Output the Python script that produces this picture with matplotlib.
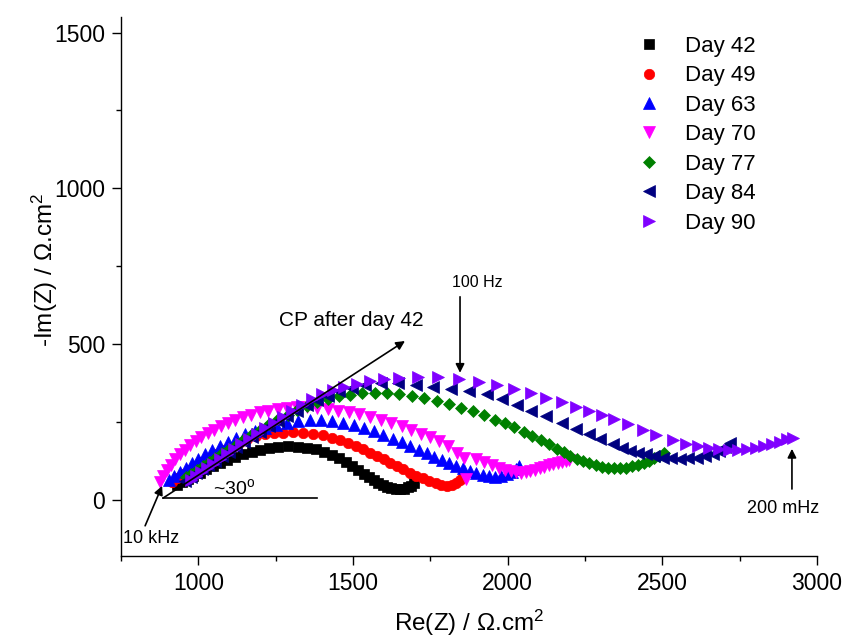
import matplotlib
matplotlib.use("Agg")
import matplotlib.pyplot as plt

plt.rcParams['font.family'] = ['Liberation Sans', 'DejaVu Sans']
plt.rcParams['mathtext.fontset'] = 'custom'
plt.rcParams['mathtext.rm'] = 'Liberation Sans'
plt.rcParams['mathtext.it'] = 'Liberation Sans:italic'

# ---------------- data ----------------
labels = ["Day 42", "Day 49", "Day 63", "Day 70", "Day 77", "Day 84", "Day 90"]

x42 = [930, 947, 965, 984, 1004, 1025, 1047, 1070, 1094, 1119, 1145, 1172, 1200, 1229, 1259,
       1290, 1321, 1351, 1380, 1407, 1432, 1455, 1477, 1497, 1516, 1534, 1551, 1567, 1582, 1596,
       1610, 1624, 1638, 1652, 1665, 1677, 1688, 1697]
y42 = [48, 58, 68, 78, 88, 98, 108, 118, 128, 137, 146, 154, 161, 166, 170,
       172, 171, 168, 162, 154, 145, 134, 121, 108, 95, 83, 72, 63, 55, 48,
       42, 38, 35, 34, 36, 40, 46, 53]

x49 = [915, 932, 950, 969, 989, 1010, 1032, 1055, 1079, 1104, 1130, 1157, 1185, 1214, 1244,
       1275, 1307, 1339, 1371, 1402, 1431, 1458, 1484, 1509, 1533, 1556, 1578, 1600, 1621, 1642,
       1663, 1684, 1705, 1726, 1747, 1767, 1786, 1804, 1820, 1834, 1846, 1856]
y49 = [58, 70, 82, 95, 108, 121, 134, 147, 159, 171, 183, 194, 204, 210, 214,
       216, 217, 216, 213, 207, 200, 192, 183, 173, 163, 152, 141, 130, 119, 108,
       98, 88, 78, 69, 60, 53, 48, 46, 48, 55, 64, 75]

x63 = [905, 922, 940, 959, 979, 1000, 1022, 1045, 1070, 1096, 1123, 1152, 1183, 1216, 1250,
       1286, 1323, 1360, 1397, 1433, 1468, 1502, 1535, 1567, 1598, 1628, 1657, 1685, 1712, 1738,
       1763, 1787, 1810, 1833, 1855, 1877, 1898, 1919, 1940, 1960, 1979, 1997, 2013, 2027, 2038]
y63 = [65, 78, 91, 104, 118, 132, 146, 160, 174, 187, 199, 211, 222, 232, 241,
       248, 253, 256, 256, 253, 248, 241, 231, 220, 209, 197, 185, 173, 161, 150,
       139, 128, 118, 109, 101, 93, 86, 80, 76, 75, 77, 82, 90, 99, 110]

x70 = [875, 886, 898, 911, 925, 940, 956, 973, 991, 1010, 1030, 1051, 1073, 1096, 1120,
       1145, 1171, 1198, 1226, 1256, 1287, 1319, 1352, 1385, 1418, 1452, 1486, 1520, 1555, 1590,
       1624, 1657, 1689, 1720, 1750, 1779, 1808, 1835, 1860, 1866, 1898, 1925, 1950, 1972, 1992,
       2010, 2027, 2043, 2058, 2073, 2088, 2103, 2118, 2133, 2148, 2162, 2175, 2188, 2199]
y70 = [58, 78, 96, 113, 130, 146, 161, 175, 189, 202, 214, 226, 237, 247, 257,
       266, 274, 281, 287, 292, 295, 297, 297, 295, 291, 287, 282, 275, 266, 257,
       247, 236, 224, 213, 202, 190, 172, 152, 136, 66, 131, 121, 112, 104, 97,
       92, 89, 88, 89, 92, 96, 101, 106, 111, 115, 119, 122, 125, 127]

x77 = [960, 977, 995, 1014, 1034, 1055, 1077, 1100, 1124, 1149, 1175, 1202, 1230, 1259, 1289,
       1320, 1352, 1385, 1419, 1454, 1491, 1530, 1570, 1610, 1650, 1690, 1730, 1770, 1810, 1850,
       1888, 1924, 1958, 1991, 2022, 2052, 2080, 2107, 2133, 2158, 2181, 2203, 2224, 2244, 2264,
       2284, 2304, 2324, 2344, 2364, 2384, 2403, 2422, 2440, 2457, 2474, 2490, 2504]
y77 = [72, 84, 96, 109, 122, 136, 150, 165, 180, 195, 211, 227, 243, 259, 274,
       289, 302, 314, 324, 332, 338, 342, 344, 343, 339, 333, 326, 318, 308, 296,
       284, 271, 258, 246, 233, 219, 205, 191, 178, 165, 153, 142, 132, 124, 117,
       111, 107, 104, 102, 102, 104, 108, 113, 119, 126, 134, 142, 150]

x84 = [958, 975, 993, 1012, 1032, 1053, 1075, 1098, 1122, 1147, 1173, 1200, 1228, 1257, 1287,
       1318, 1350, 1384, 1419, 1456, 1496, 1540, 1590, 1645, 1703, 1760, 1817, 1876, 1934, 1982,
       2030, 2076, 2125, 2177, 2222, 2262, 2300, 2339, 2368, 2394, 2420, 2446, 2474, 2501, 2528,
       2556, 2584, 2611, 2637, 2663, 2683, 2702, 2718]
y84 = [62, 74, 86, 99, 112, 126, 140, 155, 170, 186, 202, 219, 236, 253, 270,
       287, 304, 320, 335, 348, 360, 370, 376, 376, 369, 363, 357, 350, 340, 324,
       305, 287, 268, 246, 229, 213, 197, 178, 166, 158, 152, 147, 140, 135, 133,
       132, 133, 135, 140, 148, 157, 169, 184]

x90 = [975, 992, 1010, 1029, 1049, 1070, 1092, 1115, 1139, 1164, 1190, 1217, 1245, 1274, 1304,
       1335, 1367, 1400, 1435, 1472, 1512, 1555, 1600, 1650, 1710, 1775, 1843, 1908, 1965, 2021,
       2075, 2125, 2177, 2222, 2264, 2306, 2345, 2390, 2436, 2481, 2533, 2575, 2615, 2650, 2683,
       2714, 2745, 2775, 2803, 2830, 2856, 2880, 2902, 2922]
y90 = [65, 77, 89, 102, 116, 131, 146, 162, 178, 195, 212, 230, 248, 266, 285,
       305, 324, 340, 353, 364, 373, 381, 387, 391, 393, 393, 387, 378, 368, 357,
       343, 328, 313, 298, 285, 273, 261, 245, 226, 208, 191, 180, 172, 167, 163,
       161, 161, 164, 168, 174, 180, 187, 194, 200]

xs = [x42, x49, x63, x70, x77, x84, x90]
ys = [y42, y49, y63, y70, y77, y84, y90]

# ---------------- styles ----------------
colors = ["#000000", "#FF0000", "#0000FF", "#FF00FF", "#008000", "#000080", "#8000FF"]
markers = ["s", "o", "^", "v", "D", "<", ">"]
msizes = [7, 7.5, 8.5, 8.5, 6.3, 8.5, 8.5]

fig = plt.figure(figsize=(8.45, 6.37), dpi=100)
ax = fig.add_axes([121/845, 1-556/637, 696/845, 539/637])

for x, y, c, m, s, lab in zip(xs, ys, colors, markers, msizes, labels):
    ax.plot(x, y, linestyle='none', marker=m, markersize=s, color=c,
            markeredgecolor=c, markeredgewidth=0.5, label=lab)

ax.set_xlim(750, 3000)
ax.set_ylim(-180, 1550)
ax.set_xticks([1000, 1500, 2000, 2500, 3000])
ax.set_xticks([750, 1250, 1750, 2250, 2750], minor=True)
ax.set_yticks([0, 500, 1000, 1500])
ax.set_yticks([250, 750, 1250], minor=True)

for sp in ['top', 'right']:
    ax.spines[sp].set_visible(False)
for sp in ['left', 'bottom']:
    ax.spines[sp].set_linewidth(1.0)

ax.tick_params(axis='both', which='major', direction='out', length=6.5, width=1.0,
               labelsize=16.5, pad=5)
ax.tick_params(axis='both', which='minor', direction='out', length=3.8, width=1.0)

ax.set_xlabel(r'Re(Z) / $\Omega$.cm$^\mathregular{2}$', fontsize=17.5)
ax.set_ylabel(r'-Im(Z) / $\Omega$.cm$^\mathregular{2}$', fontsize=17.5)
ax.xaxis.set_label_coords(0.5, -0.097)
ax.yaxis.set_label_coords(-0.088, 0.53)

leg = ax.legend(loc='upper left', bbox_to_anchor=(618/845, 1-27/637),
                bbox_transform=fig.transFigure, borderaxespad=0, frameon=False,
                fontsize=16, handlelength=2.0, handletextpad=0.62, labelspacing=0.38,
                numpoints=1)

# ---------------- annotations ----------------
arr = dict(arrowstyle='-|>', lw=1.2, color='k', mutation_scale=13, shrinkA=0, shrinkB=0)
ax.annotate('', xy=(1668, 510), xytext=(886, 6), arrowprops=arr, zorder=10)
ax.plot([886, 1384], [6, 6], color='k', lw=1.2, zorder=10)
ax.text(1047, 39, r'~30$^\mathregular{o}$', fontsize=14, ha='left', va='center', zorder=11)
ax.text(1494, 575, 'CP after day 42', fontsize=15, ha='center', va='center')

ax.annotate('', xy=(1846, 408), xytext=(1846, 652), arrowprops=arr, zorder=10)
ax.text(1901, 697, '100 Hz', fontsize=11.5, ha='center', va='center')

ax.annotate('', xy=(2919, 164), xytext=(2919, 35), arrowprops=arr, zorder=10)
ax.text(2890, -26, '200 mHz', fontsize=13, ha='center', va='center')

ax.annotate('', xy=(883, 45), xytext=(828, -83), arrowprops=arr, zorder=10)
ax.text(847, -125, '10 kHz', fontsize=13, ha='center', va='center')

fig.savefig('out.png', dpi=100)
